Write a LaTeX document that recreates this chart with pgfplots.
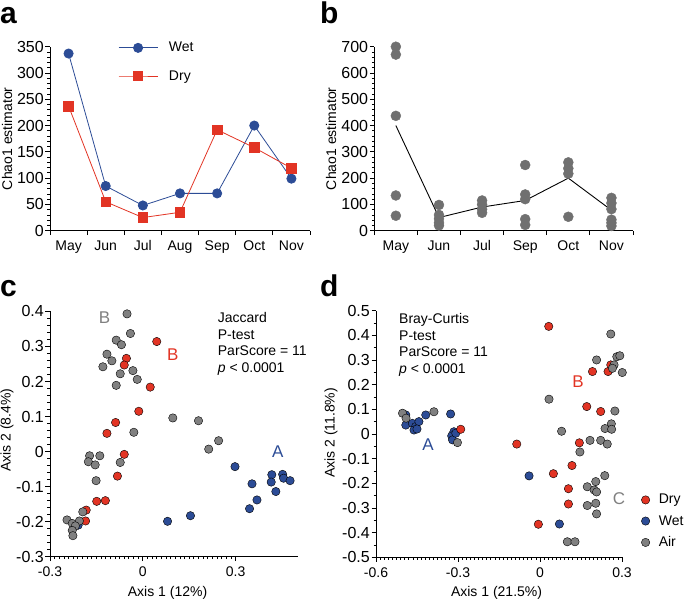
\documentclass[border=0pt]{standalone}
\usepackage{pgfplots}
\pgfplotsset{compat=1.18}
\usepackage{fontspec}
\setmainfont{Liberation Sans}
\definecolor{myblue}{RGB}{44,76,150}
\definecolor{myred}{RGB}{226,52,36}
\definecolor{mygray}{RGB}{128,128,128}
\definecolor{dgray}{RGB}{112,112,112}
\pgfplotsset{
  every axis/.append style={
    scale only axis, anchor=south west, clip=false,
    axis lines=left, axis line style={-, line width=0.9pt},
    tick align=outside, major tick length=4.5pt, minor tick length=2.5pt,
    every tick/.style={black, line width=0.8pt},
    /pgf/number format/assume math mode=true,
    xticklabel style={font=\fontsize{14}{16}\selectfont, yshift=-2pt},
    yticklabel style={font=\fontsize{16}{18}\selectfont, inner sep=1.5pt},
    label style={font=\fontsize{14}{16}\selectfont},
  },
}
\begin{document}
\begin{tikzpicture}
\path[use as bounding box] (0,0) rectangle (685pt,-600pt);
% panel letters
\node[anchor=base west, inner sep=0pt, font=\fontsize{30}{30}\selectfont\bfseries] at (0pt,-23pt) {a};
\node[anchor=base west, inner sep=0pt, font=\fontsize{30}{30}\selectfont\bfseries] at (320pt,-23pt) {b};
\node[anchor=base west, inner sep=0pt, font=\fontsize{30}{30}\selectfont\bfseries] at (0pt,-296pt) {c};
\node[anchor=base west, inner sep=0pt, font=\fontsize{30}{30}\selectfont\bfseries] at (320pt,-296pt) {d};

% ---------------- panel a
\begin{axis}[at={(50pt,-230.7pt)}, width=260pt, height=184pt,
  xmin=-0.5, xmax=6.5, ymin=0, ymax=350,
  xtick={-0.5,0.5,...,6.5}, x tick label as interval,
  xticklabels={May,Jun,Jul,Aug,Sep,Oct,Nov},
  ytick={0,50,...,350}, minor y tick num=4,
  ylabel={Chao1 estimator},
  ylabel style={at={(rel axis cs:-0.165,0.5)}, anchor=center},
  legend image code/.code={\draw[mark repeat=2,mark phase=2,#1] plot coordinates {(0pt,0pt)(19.5pt,0pt)(39pt,0pt)};},
  legend style={at={(rel axis cs:0.2615,1.025)}, anchor=north west, draw=none, fill=none,
    inner sep=0pt, row sep=17pt, font=\fontsize{14}{16}\selectfont,
    nodes={inner sep=0pt}, /tikz/column 1/.style={column sep=11pt}},
  legend cell align=left,
]
\addplot[myblue, line width=0.8pt, mark=*, mark size=4.6pt] coordinates {
(0,337) (1,85) (2,48) (3,71) (4,71) (5,200) (6,99)};
\addlegendentry{Wet}
\addplot[myred, line width=0.8pt, mark=square*, mark size=4.8pt] coordinates {
(0,237) (1,55) (2,25) (3,35) (4,192) (5,158) (6,119)};
\addlegendentry{Dry}
\end{axis}

% ---------------- panel b
\begin{axis}[at={(374.3pt,-230.7pt)}, width=258.7pt, height=184pt,
  xmin=-0.5, xmax=5.5, ymin=0, ymax=700,
  xtick={-0.5,0.5,...,5.5}, x tick label as interval,
  xticklabels={May,Jun,Jul,Sep,Oct,Nov},
  ytick={0,100,...,700}, minor y tick num=4,
  ylabel={Chao1 estimator},
  ylabel style={at={(rel axis cs:-0.167,0.5)}, anchor=center},
]
\addplot[only marks, mark=*, mark size=5pt, dgray, mark options={draw=none, fill=dgray}] coordinates {
(0,700) (0,670) (0,437) (0,134) (0,57)
(1,98) (1,60) (1,45) (1,30) (1,20)
(2,115) (2,100) (2,82) (2,68)
(3,250) (3,138) (3,120) (3,44) (3,22)
(4,260) (4,237) (4,217) (4,53)
(5,125) (5,105) (5,82) (5,42) (5,30) (5,18)};
\addplot[black, line width=0.9pt, mark=none] coordinates {
(0,400) (1,50) (2,90) (3,115) (4,200) (5,78)};
\end{axis}

% ---------------- panel c
\begin{axis}[at={(50pt,-556.7pt)}, width=247.5pt, height=245.3pt,
  xmin=-0.3, xmax=0.5, ymin=-0.3, ymax=0.4,
  xtick={-0.3,0,0.3}, minor x tick num=19,
  ytick={-0.3,-0.2,...,0.41}, minor y tick num=4,
  xlabel={Axis 1 (12\%)}, ylabel={Axis 2 (8.4\%)},
  xlabel style={at={(rel axis cs:0.475,-0.148)}, anchor=center},
  ylabel style={at={(rel axis cs:-0.174,0.516)}, anchor=center},
]
\addplot[only marks, mark=*, mark size=4.2pt, mark options={draw=none, fill=myblue}] coordinates {
(0.298,-0.043) (0.353,-0.092) (0.417,-0.066) (0.452,-0.065) (0.415,-0.087)
(0.455,-0.076) (0.476,-0.083) (0.430,-0.114) (0.369,-0.138) (0.345,-0.163)
(0.154,-0.183) (0.080,-0.199) (-0.209,-0.210)};
\addplot[only marks, mark=*, mark size=4.2pt, mark options={draw=none, fill=myred}] coordinates {
(0.045,0.314) (-0.053,0.266) (-0.060,0.247) (0.024,0.184) (-0.013,0.115)
(-0.088,0.083) (-0.116,0.052) (-0.060,-0.008) (-0.082,-0.070) (-0.121,-0.140)
(-0.149,-0.142) (-0.183,-0.167) (-0.185,-0.198)};
\addplot[only marks, mark=*, mark size=4.2pt, mark options={draw=none, fill=mygray}] coordinates {
(-0.051,0.393) (-0.040,0.337) (-0.086,0.318) (-0.069,0.305) (-0.116,0.278)
(-0.100,0.259) (-0.129,0.242) (-0.073,0.222) (-0.032,0.231) (-0.018,0.206)
(-0.086,0.189) (0.097,0.096) (0.180,0.088) (0.245,0.031) (0.213,0.007)
(-0.029,0.055) (-0.073,-0.031) (-0.172,-0.012) (-0.139,-0.012) (-0.176,-0.029)
(-0.154,-0.038) (-0.151,-0.083) (-0.194,-0.172) (-0.245,-0.195) (-0.228,-0.205)
(-0.205,-0.198) (-0.218,-0.212) (-0.228,-0.225) (-0.226,-0.240)};
\node[anchor=north west, inner sep=0pt, align=left, font=\fontsize{14}{16.5}\selectfont] at (axis cs:0.242,0.397)
  {Jaccard\\P-test\\ParScore = 11\\\textit{p} < 0.0001};
\node[font=\fontsize{17}{17}\selectfont, text=mygray] at (axis cs:-0.124,0.381) {B};
\node[font=\fontsize{17}{17}\selectfont, text=myred] at (axis cs:0.097,0.276) {B};
\node[font=\fontsize{17}{17}\selectfont, text=myblue] at (axis cs:0.436,0.0) {A};
\end{axis}

% ---------------- panel d
\begin{axis}[at={(376pt,-557.3pt)}, width=246pt, height=246.7pt,
  xmin=-0.6, xmax=0.3, ymin=-0.5, ymax=0.5,
  xtick={-0.6,-0.3,0,0.3}, minor x tick num=19,
  ytick={-0.5,-0.4,...,0.51}, minor y tick num=1,
  xlabel={Axis 1 (21.5\%)}, ylabel={Axis 2 (11.8\%)},
  xlabel style={at={(rel axis cs:0.49,-0.145)}, anchor=center},
  ylabel style={at={(rel axis cs:-0.183,0.504)}, anchor=center},
  legend style={at={(rel axis cs:1.078,0.256)}, anchor=north west, draw=none, fill=none,
    inner sep=0pt, row sep=10pt, font=\fontsize{14}{16}\selectfont,
    nodes={inner sep=0pt}, /tikz/column 1/.style={column sep=9pt}},
  legend cell align=left,
]
\addlegendimage{only marks, mark=*, mark size=4.2pt, mark options={draw=none, fill=myred}}
\addlegendentry{Dry}
\addlegendimage{only marks, mark=*, mark size=4.2pt, mark options={draw=none, fill=myblue}}
\addlegendentry{Wet}
\addlegendimage{only marks, mark=*, mark size=4.2pt, mark options={draw=none, fill=mygray}}
\addlegendentry{Air}
\addplot[only marks, forget plot, mark=*, mark size=4.2pt, mark options={draw=none, fill=myblue}] coordinates {
(-0.491,0.077) (-0.491,0.036) (-0.467,0.043) (-0.455,0.030) (-0.443,0.050)
(-0.461,0.016) (-0.450,0.020) (-0.418,0.077) (-0.327,0.081) (-0.315,0.009)
(-0.323,-0.008) (-0.320,-0.024) (-0.308,0.003) (-0.040,-0.170) (0.071,-0.365)};
\addplot[only marks, forget plot, mark=*, mark size=4.2pt, mark options={draw=none, fill=myred}] coordinates {
(0.032,0.436) (0.192,0.253) (0.249,0.253) (0.259,0.280) (0.171,0.111)
(0.222,0.091) (0.144,-0.036) (-0.085,-0.041) (0.117,-0.128) (0.049,-0.161)
(0.104,-0.222) (0.104,-0.284) (-0.006,-0.366) (-0.290,0.019)};
\addplot[only marks, forget plot, mark=*, mark size=4.2pt, mark options={draw=none, fill=mygray}] coordinates {
(-0.503,0.084) (-0.490,0.064) (-0.388,0.090) (-0.302,-0.035) (0.259,0.405)
(0.207,0.300) (0.281,0.313) (0.292,0.317) (0.271,0.280) (0.265,0.266)
(0.301,0.249) (0.033,0.141) (0.274,0.093) (0.079,0.011) (0.183,-0.026)
(0.222,-0.026) (0.246,-0.041) (0.261,0.041) (0.238,0.022) (0.262,0.019)
(0.146,-0.073) (0.237,-0.169) (0.204,-0.193) (0.173,-0.214) (0.198,-0.227)
(0.207,-0.235) (0.173,-0.290) (0.204,-0.281) (0.207,-0.324) (0.100,-0.437)
(0.128,-0.437)};
\node[anchor=north west, inner sep=0pt, align=left, font=\fontsize{14}{16.5}\selectfont] at (axis cs:-0.516,0.489)
  {Bray-Curtis\\P-test\\ParScore = 11\\\textit{p} < 0.0001};
\node[font=\fontsize{17}{17}\selectfont, text=myred] at (axis cs:0.139,0.210) {B};
\node[font=\fontsize{17}{17}\selectfont, text=myblue] at (axis cs:-0.410,-0.045) {A};
\node[font=\fontsize{17}{17}\selectfont, text=mygray] at (axis cs:0.289,-0.261) {C};
\end{axis}
\end{tikzpicture}
\end{document}
